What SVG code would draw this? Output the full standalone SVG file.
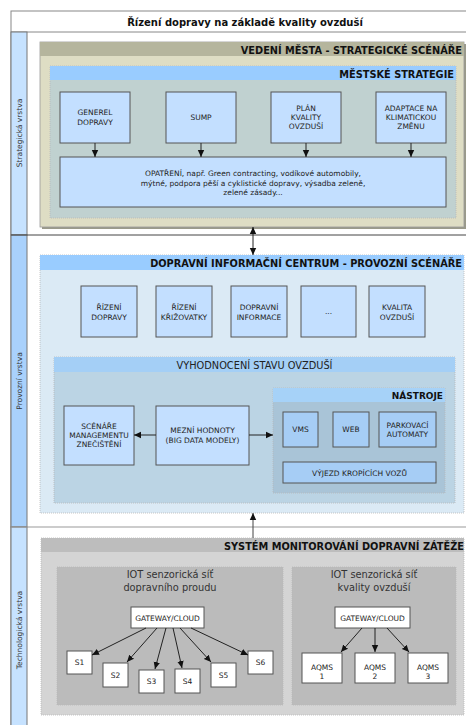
<svg xmlns="http://www.w3.org/2000/svg" width="466" height="725" viewBox="0 0 466 725">
<defs>
<style>
text{font-family:"DejaVu Sans","Liberation Sans",sans-serif;fill:#222;}
.t7{font-size:7.5px;text-anchor:middle;}
.hdr{font-size:9.8px;font-weight:bold;text-anchor:end;fill:#111;}
.lane{font-size:7.5px;text-anchor:middle;fill:#333;}
.iot{font-size:9.8px;text-anchor:middle;fill:#333;}
.bx{fill:#c3dfff;stroke:#555;stroke-width:1;}
.bx2{fill:#a6cdf5;stroke:#555;stroke-width:1;}
.wb{fill:#fff;stroke:#555;stroke-width:1;}
.dot{stroke:#b8b8b8;stroke-width:0.8;stroke-dasharray:1 1;}
.ar{stroke:#222;stroke-width:1;fill:none;marker-end:url(#ah);}
</style>
<marker id="ah" markerWidth="8" markerHeight="8" refX="7" refY="4" orient="auto-start-reverse" markerUnits="userSpaceOnUse"><path d="M0,0.8 L7,4 L0,7.2 z" fill="#111"/></marker>
</defs>
<rect width="466" height="725" fill="#fff"/>

<g id="frame">
<rect x="11" y="11" width="470" height="730" fill="#fff" stroke="#888" stroke-width="1"/>
<line x1="11" y1="32" x2="481" y2="32" stroke="#888"/>
<text x="245" y="25.5" style="font-size:10px;font-weight:bold;text-anchor:middle;fill:#111">Řízení dopravy na základě kvality ovzduší</text>
<rect x="11" y="32" width="16" height="203" fill="#c6e2ff" stroke="#777"/>
<rect x="11" y="235" width="16" height="292" fill="#a9d1fc" stroke="#777"/>
<rect x="11" y="527" width="16" height="214" fill="#c6e2ff" stroke="#777"/>
<line x1="11" y1="235" x2="481" y2="235" stroke="#444"/>
<line x1="11" y1="527" x2="481" y2="527" stroke="#999"/>
<text class="lane" transform="translate(22,133) rotate(-90)">Strategická vrstva</text>
<text class="lane" transform="translate(22,381) rotate(-90)">Provozní vrstva</text>
<text class="lane" transform="translate(22,630) rotate(-90)">Technologická vrstva</text>
</g>

<g id="vedeni-mesta">
<rect x="42" y="44" width="424" height="185" fill="#9a9a8a"/>
<rect x="40" y="42" width="424" height="185" fill="#deddc4" stroke="#999" stroke-width="0.8"/>
<rect x="40" y="42" width="424" height="14" fill="#b5b59d"/>
<text class="hdr" x="462" y="53.5">VEDENÍ MĚSTA - STRATEGICKÉ SCÉNÁŘE</text>
</g>

<g id="mestske-strategie">
<rect x="50" y="66" width="406" height="152" fill="#c0d1d0" class="dot"/>
<rect x="50" y="66" width="406" height="14" fill="#99ccff"/>
<text class="hdr" x="454" y="77.5">MĚSTSKÉ STRATEGIE</text>
</g>

<g id="generel"><rect class="bx" x="60" y="92" width="70" height="51"/><text class="t7" x="95" y="115">GENEREL</text><text class="t7" x="95" y="124.5">DOPRAVY</text></g>
<g id="sump"><rect class="bx" x="166" y="92" width="70" height="51"/><text class="t7" x="201" y="120">SUMP</text></g>
<g id="plan"><rect class="bx" x="271" y="92" width="70" height="51"/><text class="t7" x="306" y="111">PLÁN</text><text class="t7" x="306" y="120">KVALITY</text><text class="t7" x="306" y="129">OVZDUŠÍ</text></g>
<g id="adaptace"><rect class="bx" x="376" y="92" width="70" height="51"/><text class="t7" x="411" y="111">ADAPTACE NA</text><text class="t7" x="411" y="120">KLIMATICKOU</text><text class="t7" x="411" y="129">ZMĚNU</text></g>
<g id="opatreni"><rect class="bx" x="60" y="157" width="386" height="50"/>
<text class="t7" x="253" y="176">OPATŘENÍ, např. Green contracting, vodíkové automobily,</text>
<text class="t7" x="253" y="185.5">mýtné, podpora pěší a cyklistické dopravy, výsadba zeleně,</text>
<text class="t7" x="253" y="195">zelené zásady...</text></g>

<g id="dic">
<rect x="40" y="255" width="424" height="258" fill="#dbeaf5" class="dot"/>
<rect x="40" y="255" width="424" height="15" fill="#99ccff"/>
<text class="hdr" x="462" y="266.5">DOPRAVNÍ INFORMAČNÍ CENTRUM - PROVOZNÍ SCÉNÁŘE</text>
</g>
<g id="rizeni-dopravy"><rect class="bx" x="81" y="286" width="56" height="51"/><text class="t7" x="109" y="310">ŘÍZENÍ</text><text class="t7" x="109" y="319.5">DOPRAVY</text></g>
<g id="rizeni-krizovatky"><rect class="bx" x="156" y="286" width="56" height="51"/><text class="t7" x="184" y="310">ŘÍZENÍ</text><text class="t7" x="184" y="319.5">KŘIŽOVATKY</text></g>
<g id="dopravni-informace"><rect class="bx" x="231" y="286" width="56" height="51"/><text class="t7" x="259" y="310">DOPRAVNÍ</text><text class="t7" x="259" y="319.5">INFORMACE</text></g>
<g id="dalsi"><rect class="bx" x="301" y="286" width="55" height="51"/><text class="t7" x="328.5" y="314">...</text></g>
<g id="kvalita-ovzdusi"><rect class="bx" x="369" y="286" width="56" height="51"/><text class="t7" x="397" y="310">KVALITA</text><text class="t7" x="397" y="319.5">OVZDUŠÍ</text></g>

<g id="vyhodnoceni">
<rect x="54" y="357" width="401" height="146" fill="#bbd4e4" class="dot"/>
<rect x="54" y="357" width="401" height="15" fill="#a4cff6"/>
<text x="254.5" y="368.5" style="font-size:9.8px;text-anchor:middle;fill:#222">VYHODNOCENÍ STAVU OVZDUŠÍ</text>
</g>
<g id="scenare"><rect class="bx" x="64" y="406" width="70" height="59"/><text class="t7" x="99" y="429">SCÉNÁŘE</text><text class="t7" x="99" y="438">MANAGEMENTU</text><text class="t7" x="99" y="447">ZNEČIŠTĚNÍ</text></g>
<g id="mezni"><rect class="bx" x="156" y="406" width="93" height="59"/><text class="t7" x="202.5" y="433">MEZNÍ HODNOTY</text><text class="t7" x="202.5" y="442.5">(BIG DATA MODELY)</text></g>

<g id="nastroje">
<rect x="273" y="388" width="172" height="105" fill="#a9c4d7" class="dot"/>
<rect x="273" y="388" width="172" height="14" fill="#a6d2f8"/>
<text class="hdr" x="443" y="399" style="font-size:9px">NÁSTROJE</text>
</g>
<g id="vms"><rect class="bx2" x="283" y="412" width="35" height="35"/><text class="t7" x="300.5" y="432">VMS</text></g>
<g id="web"><rect class="bx2" x="333" y="412" width="36" height="35"/><text class="t7" x="351" y="432">WEB</text></g>
<g id="parkovaci"><rect class="bx2" x="379" y="412" width="57" height="35"/><text class="t7" x="407.5" y="428">PARKOVACÍ</text><text class="t7" x="407.5" y="437">AUTOMATY</text></g>
<g id="vyjezd"><rect class="bx2" x="283" y="462" width="153" height="21"/><text class="t7" x="359.5" y="475.5">VÝJEZD KROPÍCÍCH VOZŮ</text></g>

<g id="system-monitorovani">
<rect x="41" y="538" width="423" height="177" fill="#d4d4d4" class="dot"/>
<rect x="41" y="538" width="423" height="14" fill="#bdbdbd"/>
<text class="hdr" x="464" y="549.5">SYSTÉM MONITOROVÁNÍ DOPRAVNÍ ZÁTĚŽE</text>
</g>
<g id="iot-doprava">
<rect x="57" y="567" width="226" height="138" fill="#bbbbbb" class="dot"/>
<text class="iot" x="170" y="578">IOT senzorická síť</text>
<text class="iot" x="170" y="590.5">dopravního proudu</text>
</g>
<g id="iot-ovzdusi">
<rect x="292" y="567" width="164" height="138" fill="#bbbbbb" class="dot"/>
<text class="iot" x="374" y="578">IOT senzorická síť</text>
<text class="iot" x="374" y="590.5">kvality ovzduší</text>
</g>
<g id="gateway1"><rect class="wb" x="131" y="607" width="73" height="21"/><text class="t7" x="167.5" y="620.5">GATEWAY/CLOUD</text></g>
<g id="gateway2"><rect class="wb" x="335" y="607" width="75" height="21"/><text class="t7" x="372.5" y="620.5">GATEWAY/CLOUD</text></g>
<g id="s1"><rect class="wb" x="67" y="651" width="25" height="23"/><text class="t7" x="79.5" y="665">S1</text></g>
<g id="s2"><rect class="wb" x="103" y="663" width="25" height="24"/><text class="t7" x="115.5" y="677.5">S2</text></g>
<g id="s3"><rect class="wb" x="139" y="670" width="25" height="23"/><text class="t7" x="151.5" y="684">S3</text></g>
<g id="s4"><rect class="wb" x="175" y="669" width="25" height="24"/><text class="t7" x="187.5" y="683.5">S4</text></g>
<g id="s5"><rect class="wb" x="211" y="663" width="25" height="24"/><text class="t7" x="223.5" y="677.5">S5</text></g>
<g id="s6"><rect class="wb" x="248" y="651" width="25" height="23"/><text class="t7" x="260.5" y="665">S6</text></g>
<g id="aqms1"><rect class="wb" x="302" y="653" width="40" height="30"/><text class="t7" x="322" y="670">AQMS</text><text class="t7" x="322" y="679">1</text></g>
<g id="aqms2"><rect class="wb" x="355" y="653" width="40" height="30"/><text class="t7" x="375" y="670">AQMS</text><text class="t7" x="375" y="679">2</text></g>
<g id="aqms3"><rect class="wb" x="408" y="653" width="40" height="30"/><text class="t7" x="428" y="670">AQMS</text><text class="t7" x="428" y="679">3</text></g>

<g id="connectors">
<line class="ar" x1="95" y1="143" x2="95" y2="157"/>
<line class="ar" x1="201" y1="143" x2="201" y2="157"/>
<line class="ar" x1="306" y1="143" x2="306" y2="157"/>
<line class="ar" x1="411" y1="143" x2="411" y2="157"/>
<line class="ar" x1="253" y1="227" x2="253" y2="255" style="marker-start:url(#ah)"/>
<line class="ar" x1="156" y1="435" x2="134" y2="435"/>
<line class="ar" x1="249" y1="435" x2="273" y2="435"/>
<line class="ar" x1="253" y1="538" x2="253" y2="513" style="stroke:#444"/>
<line class="ar" x1="146" y1="628" x2="92" y2="655"/>
<line class="ar" x1="157" y1="628" x2="127" y2="662"/>
<line class="ar" x1="166" y1="628" x2="155" y2="669"/>
<line class="ar" x1="173" y1="628" x2="182" y2="668"/>
<line class="ar" x1="180" y1="628" x2="211" y2="662"/>
<line class="ar" x1="191" y1="628" x2="248" y2="655"/>
<line class="ar" x1="362" y1="628" x2="341" y2="652"/>
<line class="ar" x1="375" y1="628" x2="375" y2="652"/>
<line class="ar" x1="387" y1="628" x2="409" y2="652"/>
</g>
</svg>
